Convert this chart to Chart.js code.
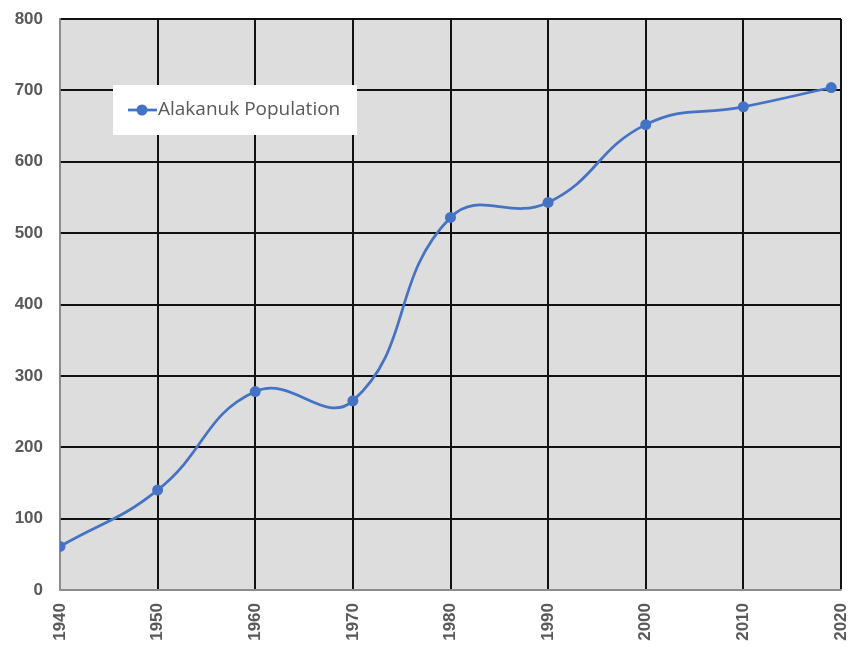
<!DOCTYPE html>
<html>
<head>
<meta charset="utf-8">
<script src="https://cdn.jsdelivr.net/npm/chart.js@4"></script>
<style>
  html, body { margin: 0; padding: 0; background: #ffffff; }
  #wrap { width: 850px; height: 646px; }
</style>
</head>
<body>
<div id="wrap"><canvas id="grafico" width="850" height="646"></canvas></div>
<script>
// dados
const anos = [1940, 1950, 1960, 1970, 1980, 1990, 2000, 2010, 2019];
const populacao = [61, 140, 278, 265, 522, 543, 652, 677, 704];
const nomeSerie = 'Alakanuk Population';
const ticksX = [1940, 1950, 1960, 1970, 1980, 1990, 2000, 2010, 2020];
const ticksY = [0, 100, 200, 300, 400, 500, 600, 700, 800];

const azul = '#4472C4';
const cinzaTexto = '#595959';
const cinzaEixo = '#8c8c8c';

// fundo cinza da área do gráfico
const fundoArea = {
    id: 'fundoArea',
    beforeDraw(chart) {
        const { ctx, chartArea: a } = chart;
        ctx.save();
        ctx.fillStyle = '#dddddd';
        ctx.fillRect(a.left, a.top, a.right - a.left, a.bottom - a.top);
        ctx.restore();
    }
};

// legenda dentro da área, com caixa branca
const legendaInterna = {
    id: 'legendaInterna',
    afterDatasetsDraw(chart) {
        const ctx = chart.ctx;
        ctx.save();
        ctx.fillStyle = '#ffffff';
        ctx.fillRect(113, 85, 244, 50);
        ctx.strokeStyle = azul;
        ctx.lineWidth = 2.75;
        ctx.beginPath();
        ctx.moveTo(128, 110);
        ctx.lineTo(157, 110);
        ctx.stroke();
        ctx.fillStyle = azul;
        ctx.beginPath();
        ctx.arc(142, 110, 5.5, 0, Math.PI * 2);
        ctx.fill();
        ctx.fillStyle = cinzaTexto;
        ctx.font = '19px "Open Sans"';
        ctx.textBaseline = 'middle';
        ctx.fillText(chart.data.datasets[0].label, 158, 110);
        ctx.restore();
    }
};

const ctx = document.getElementById('grafico').getContext('2d');
const chart = new Chart(ctx, {
    type: 'line',
    data: {
        datasets: [{
            label: nomeSerie,
            data: anos.map((a, i) => ({ x: a, y: populacao[i] })),
            borderColor: azul,
            backgroundColor: azul,
            borderWidth: 2.75,
            pointRadius: 5.5,
            pointBackgroundColor: azul,
            pointBorderWidth: 0,
            tension: 0.45,
            fill: false
        }]
    },
    options: {
        responsive: false,
        animation: false,
        layout: { padding: { top: 19, right: 9, left: 0, bottom: 0 } },
        plugins: {
            legend: { display: false },
            tooltip: { enabled: false }
        },
        scales: {
            x: {
                type: 'linear',
                min: ticksX[0],
                max: ticksX[ticksX.length - 1],
                afterBuildTicks: s => { s.ticks = ticksX.map(v => ({ value: v })); },
                afterFit: s => { s.height = 56; s.paddingLeft = 0; s.paddingRight = 0; },
                border: { color: cinzaEixo, width: 1.5 },
                grid: {
                    drawTicks: false,
                    lineWidth: 2,
                    color: c => c.index === 0 ? cinzaEixo : '#111111'
                },
                ticks: {
                    minRotation: 90,
                    maxRotation: 90,
                    padding: 13,
                    color: cinzaTexto,
                    font: { family: 'Liberation Sans', size: 17, weight: 'bold' },
                    callback: v => String(v)
                }
            },
            y: {
                min: ticksY[0],
                max: ticksY[ticksY.length - 1],
                afterBuildTicks: s => { s.ticks = ticksY.map(v => ({ value: v })); },
                afterFit: s => { s.width = 60; s.paddingTop = 0; s.paddingBottom = 0; },
                border: { color: cinzaEixo, width: 1.5 },
                grid: {
                    drawTicks: false,
                    lineWidth: 2,
                    color: c => c.index === 0 ? cinzaEixo : '#111111'
                },
                ticks: {
                    padding: 17,
                    color: cinzaTexto,
                    font: { family: 'Liberation Sans', size: 17, weight: 'bold' },
                    callback: v => String(v)
                }
            }
        }
    },
    plugins: [fundoArea, legendaInterna]
});
</script>
</body>
</html>
